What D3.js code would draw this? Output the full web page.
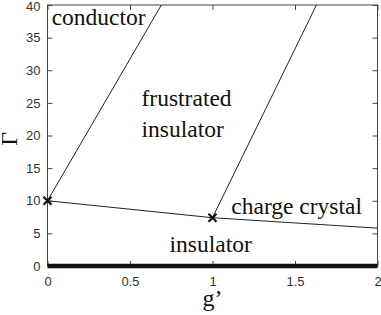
<!DOCTYPE html>
<html>
<head>
<meta charset="utf-8">
<script src="https://cdn.jsdelivr.net/npm/d3@7"></script>
<style>
  body { margin: 0; background: #fff; }
  .tick text { font-family: "Liberation Sans", Arial, sans-serif; font-size: 13px; fill: #333; }
  .lbl { font-family: "Liberation Serif", "Times New Roman", serif; fill: #111; }
</style>
</head>
<body>
<div class="chart"></div>
<script>
// phase boundaries, in (g', Gamma)
const leftBoundary = [[0, 10], [0.69, 40]]
const rightBoundary = [[1, 7.4], [1.63, 40]]
const lowerBoundary = [[0, 10], [1, 7.4], [2, 5.8]]
const insulatorLine = [[0, 0], [2, 0]]
const markers = [[0, 10], [1, 7.4]]

const xTicks = [0, 0.5, 1, 1.5, 2]
const yTicks = [0, 5, 10, 15, 20, 25, 30, 35, 40]

const regionLabels = [
    { text: "conductor", g: 0.025, v: 36.9 },
    { text: "frustrated", g: 0.57, v: 24.5 },
    { text: "insulator", g: 0.57, v: 19.7 },
    { text: "charge crystal", g: 1.114, v: 8.0 },
    { text: "insulator", g: 0.74, v: 2.2 }
]

const W = 381
const H = 315
const margin = { top: 5, right: 3.5, bottom: 49, left: 47.5 }
const width = W - margin.left - margin.right
const height = H - margin.top - margin.bottom

const svg = d3.select(".chart").append("svg")
    .attr("width", W)
    .attr("height", H)
    .append("g")
    .attr("transform", "translate(" + margin.left + "," + margin.top + ")")

const x = d3.scaleLinear().domain([0, 2]).range([0, width])
const y = d3.scaleLinear().domain([0, 40]).range([height, 0])

const axisColor = "#444"

// axes, ticks pointing inward
const xAxis = svg.append("g")
    .attr("transform", "translate(0," + height + ")")
    .call(d3.axisBottom(x).tickValues(xTicks).tickFormat(d3.format("~g")).tickSizeInner(-5).tickSizeOuter(0).tickPadding(11))
const xTop = svg.append("g")
    .call(d3.axisTop(x).tickValues(xTicks).tickFormat("").tickSizeInner(-5).tickSizeOuter(0))
const yAxis = svg.append("g")
    .call(d3.axisLeft(y).tickValues(yTicks).tickSizeInner(-5).tickSizeOuter(0).tickPadding(7))
const yRight = svg.append("g")
    .attr("transform", "translate(" + width + ",0)")
    .call(d3.axisRight(y).tickValues(yTicks).tickFormat("").tickSizeInner(-5).tickSizeOuter(0))

for (const a of [xAxis, xTop, yAxis, yRight]) {
    a.select(".domain").remove()
    a.selectAll(".tick line").attr("stroke", axisColor)
}
// top label sits flush with the window edge, as in the original
yAxis.selectAll(".tick text").filter(d => d === 40).attr("dy", "0.42em")

svg.append("rect")
    .attr("width", width)
    .attr("height", height)
    .attr("fill", "none")
    .attr("stroke", axisColor)
    .attr("stroke-width", 1)

const line = d3.line().x(d => x(d[0])).y(d => y(d[1]))

for (const pts of [leftBoundary, rightBoundary, lowerBoundary]) {
    svg.append("path")
        .attr("d", line(pts))
        .attr("fill", "none")
        .attr("stroke", "#222")
        .attr("stroke-width", 1)
}

svg.append("path")
    .attr("d", line(insulatorLine))
    .attr("fill", "none")
    .attr("stroke", "#111")
    .attr("stroke-width", 4.5)

// x markers
const m = 4
svg.selectAll(".marker")
    .data(markers)
    .enter()
    .append("path")
    .attr("class", "marker")
    .attr("d", d => {
        const cx = x(d[0]), cy = y(d[1])
        return "M" + (cx - m) + "," + (cy - m) + "L" + (cx + m) + "," + (cy + m) +
            "M" + (cx - m) + "," + (cy + m) + "L" + (cx + m) + "," + (cy - m)
    })
    .attr("stroke", "#111")
    .attr("stroke-width", 2.2)

svg.selectAll(".region")
    .data(regionLabels)
    .enter()
    .append("text")
    .attr("class", "lbl")
    .attr("x", d => x(d.g))
    .attr("y", d => y(d.v))
    .attr("font-size", 23.5)
    .text(d => d.text)

// axis titles
svg.append("text")
    .attr("class", "lbl")
    .attr("x", x(1))
    .attr("y", height + 40)
    .attr("text-anchor", "middle")
    .attr("font-size", 24)
    .text("g\u2019")

svg.append("text")
    .attr("class", "lbl")
    .attr("transform", "translate(" + (16.5 - margin.left) + "," + y(19.5) + ") rotate(-90)")
    .attr("text-anchor", "middle")
    .attr("font-size", 24)
    .text("\u0393")
</script>
</body>
</html>
